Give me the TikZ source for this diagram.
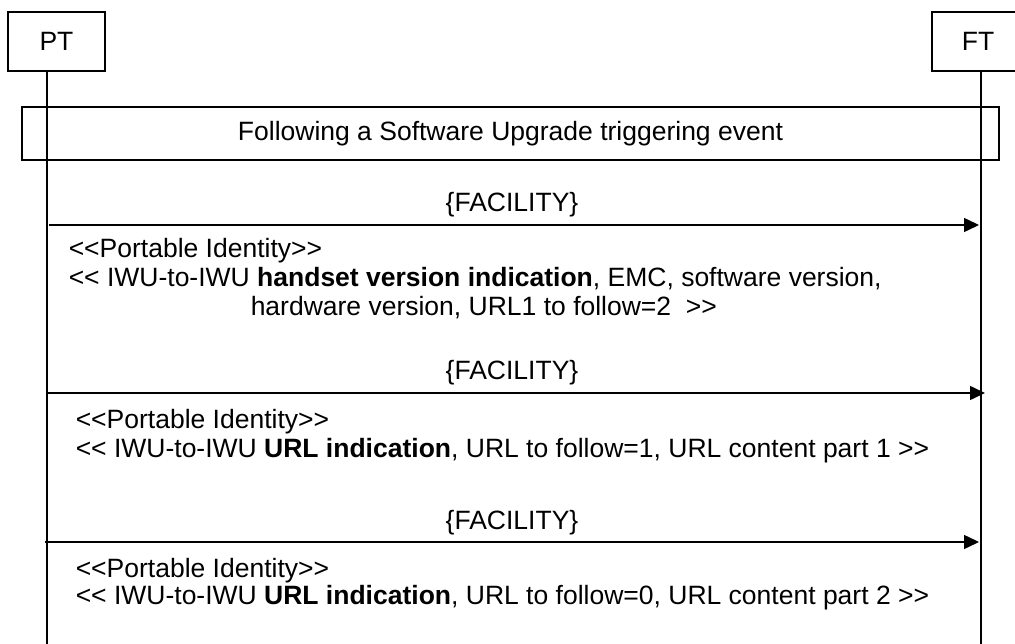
\documentclass[tikz,border=0pt]{standalone}
\usepackage{fontspec}
\setmainfont{Liberation Sans}
\usetikzlibrary{arrows.meta}
\begin{document}
\begin{tikzpicture}[x=1pt,y=-1pt,line width=1.5pt,
  txt/.style={font=\fontsize{26.5}{30}\selectfont,inner sep=0pt},
  entity/.style={draw,line width=1.5pt,txt,minimum height=59pt},
  msg/.style={-{Triangle[length=15pt,width=14pt]}},
  life/.style={line width=1.5pt}]
\useasboundingbox (0,0) rectangle (1015,644);
% entities
\node[entity,minimum width=97pt] (pt) at (56.5,41.5) {PT};
\node[entity,minimum width=92pt] (ft) at (978,41.5) {FT};
% event box
\node[draw,line width=1.5pt,minimum width=977pt,minimum height=53pt,txt] (ev) at (510.5,133.5) {Following a Software Upgrade triggering event};
% lifelines
\coordinate (ptTop) at (47,71);
\coordinate (ptBot) at (47,644);
\coordinate (ftTop) at (981,71);
\coordinate (ftBot) at (981,644);
\draw[life] (ptTop) -- (ptBot);
\draw[life] (ftTop) -- (ftBot);
% messages
\coordinate (a1s) at (49,225);
\coordinate (a1e) at (979,225);
\coordinate (a2s) at (48,393);
\coordinate (a2e) at (985,393);
\coordinate (a3s) at (45,542);
\coordinate (a3e) at (979,542);
\draw[msg] (a1s) -- (a1e);
\draw[msg] (a2s) -- (a2e);
\draw[msg] (a3s) -- (a3e);
\node[txt,anchor=base] (f1) at (512,212) {\{FACILITY\}};
\node[txt,anchor=base] (f2) at (512,380) {\{FACILITY\}};
\node[txt,anchor=base] (f3) at (512,529) {\{FACILITY\}};
% parameter texts
\node[txt,anchor=base west] (b1a) at (68,258) {<{}<Portable Identity>{}>};
\node[txt,anchor=base west] (b1b) at (68,287) {<{}< IWU-to-IWU \textbf{handset version indication}, EMC, software version,};
\node[txt,anchor=base west] (b1c) at (250,316) {hardware version, URL1 to follow=2\ \ >{}>};
\node[txt,anchor=base west] (b2a) at (75,428) {<{}<Portable Identity>{}>};
\node[txt,anchor=base west] (b2b) at (75,457) {<{}< IWU-to-IWU \textbf{URL indication}, URL to follow=1, URL content part 1 >{}>};
\node[txt,anchor=base west] (b3a) at (75,577) {<{}<Portable Identity>{}>};
\node[txt,anchor=base west] (b3b) at (75,604) {<{}< IWU-to-IWU \textbf{URL indication}, URL to follow=0, URL content part 2 >{}>};
\end{tikzpicture}
\end{document}
